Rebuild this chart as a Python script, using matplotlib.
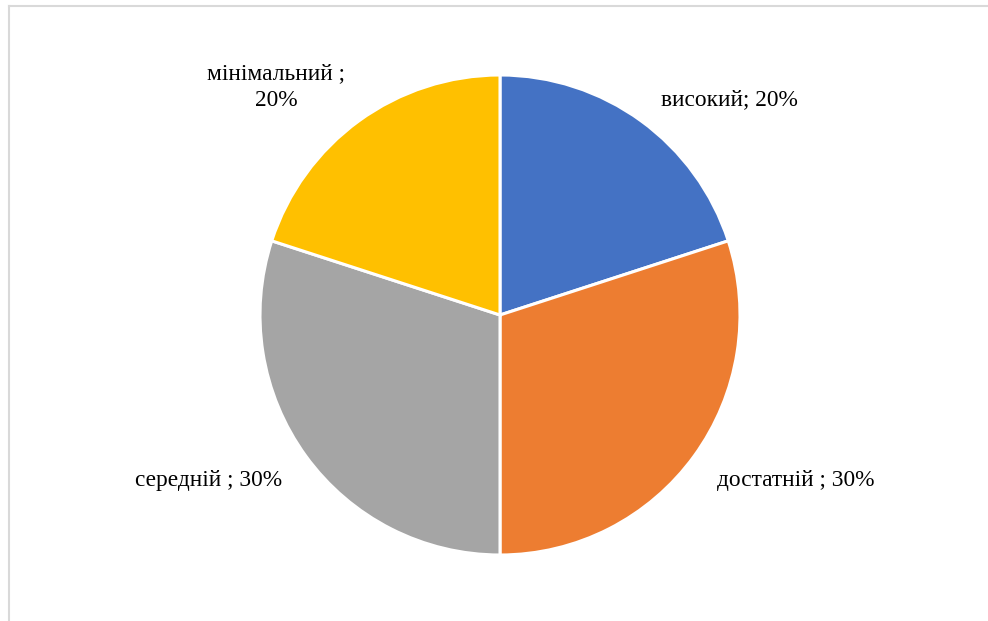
import matplotlib.pyplot as plt
from matplotlib.lines import Line2D

# Розподіл за рівнями
levels = ['високий', 'достатній', 'середній', 'мінімальний']
shares = [20, 30, 30, 20]
colors = ['#4472C4', '#ED7D31', '#A5A5A5', '#FFC000']
label_texts = ['високий; 20%', 'достатній ; 30%', 'середній ; 30%', 'мінімальний ;\n20%']
label_pos = [(0.954, 0.898), (1.233, -0.689), (-1.2125, -0.689), (-0.933, 0.950)]

plt.rcParams['font.family'] = ['Liberation Serif', 'DejaVu Serif']

W, H = 988, 621
fig = plt.figure(figsize=(W / 100, H / 100), dpi=100)

# pie centre at (500, 315) px, radius 240 px
cx, cy, r = 500, 315, 240
ax = fig.add_axes([(cx - r) / W, (H - cy - r) / H, 2 * r / W, 2 * r / H])
ax.pie(shares, colors=colors, startangle=90, counterclock=False, radius=1,
       wedgeprops=dict(edgecolor='white', linewidth=2.2))
ax.set_xlim(-1, 1)
ax.set_ylim(-1, 1)
ax.set_aspect('equal')
ax.axis('off')

for txt, (x, y) in zip(label_texts, label_pos):
    ax.text(x, y, txt, ha='center', va='center', fontsize=16.8,
            color='#000000', clip_on=False, linespacing=1.32)

# chart area frame: only left and top edges are visible
bx, by = 8.5 / W, 1 - 6 / H
fig.add_artist(Line2D([bx, bx], [0, by], transform=fig.transFigure,
                      color='#D9D9D9', linewidth=1.5))
fig.add_artist(Line2D([bx, 1], [by, by], transform=fig.transFigure,
                      color='#D9D9D9', linewidth=1.5))

fig.savefig('out.png', dpi=100, facecolor='white')
